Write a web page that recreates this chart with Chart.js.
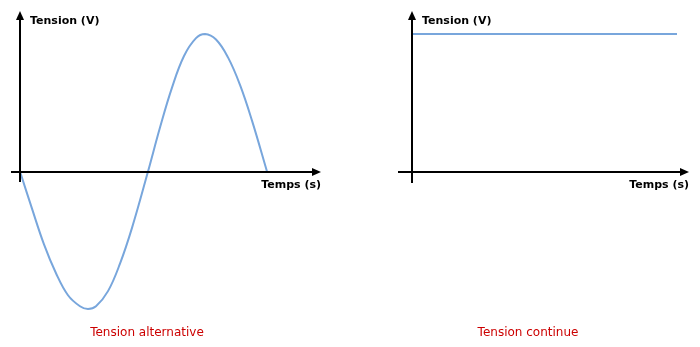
<!DOCTYPE html>
<html>
<head>
<meta charset="utf-8">
<script src="https://cdn.jsdelivr.net/npm/chart.js@4/dist/chart.umd.min.js"></script>
<style>
  html, body { margin: 0; padding: 0; background: #fff; }
  .wrap { position: relative; width: 700px; height: 347px; }
  .panel { position: absolute; top: 0; width: 350px; height: 347px; }
  #left { left: 0; }
  #right { left: 350px; }
</style>
</head>
<body>
<div class="wrap">
  <div class="panel" id="left"><canvas id="acChart"></canvas></div>
  <div class="panel" id="right"><canvas id="dcChart"></canvas></div>
</div>
<script>
// values (time in arbitrary units, voltage normalised to the peak)
const acTime    = [0, 12, 24, 36, 48, 60, 68, 76, 88, 100, 112, 128, 140, 152, 164, 176, 185, 196, 208, 220, 232, 247]
const acVoltage = [0, -0.27, -0.53, -0.74, -0.9, -0.98, -1, -0.98, -0.87, -0.67, -0.41, 0, 0.32, 0.61, 0.84, 0.97, 1, 0.96, 0.83, 0.63, 0.37, 0]

const dcTime    = [0, 1]
const dcVoltage = [1, 1]

const yLabel    = "Tension (V)"
const xLabel    = "Temps (s)"
const acCaption = "Tension alternative"
const dcCaption = "Tension continue"

const lineColor = "#78a6dc"
const axisFont  = "bold 11px 'DejaVu Sans', Verdana, sans-serif"
const capFont   = "12px 'DejaVu Sans', Verdana, sans-serif"

function arrowHead(ctx, x, y, dir) {
  ctx.beginPath()
  if (dir === "up") {
    ctx.moveTo(x, y)
    ctx.lineTo(x - 4, y + 9)
    ctx.lineTo(x + 4, y + 9)
  } else {
    ctx.moveTo(x, y)
    ctx.lineTo(x - 9, y - 4)
    ctx.lineTo(x - 9, y + 4)
  }
  ctx.closePath()
  ctx.fill()
}

const axesPlugin = {
  id: "arrowAxes",
  afterDatasetsDraw(chart, args, opts) {
    const { ctx, scales: { x, y } } = chart
    const x0 = Math.round(x.getPixelForValue(opts.origin))
    const y0 = Math.round(y.getPixelForValue(0))
    ctx.save()
    ctx.strokeStyle = "#000"
    ctx.fillStyle = "#000"
    ctx.lineWidth = 2
    // vertical axis
    ctx.beginPath()
    ctx.moveTo(x0, opts.yBottom)
    ctx.lineTo(x0, opts.yTop + 6)
    ctx.stroke()
    arrowHead(ctx, x0, opts.yTop, "up")
    // horizontal axis
    ctx.beginPath()
    ctx.moveTo(opts.xStart, y0)
    ctx.lineTo(opts.xEnd - 6, y0)
    ctx.stroke()
    arrowHead(ctx, opts.xEnd, y0, "right")

    ctx.font = axisFont
    ctx.textBaseline = "middle"
    ctx.textAlign = "left"
    ctx.fillText(yLabel, x0 + 10, opts.yTop + 10)
    ctx.textAlign = "right"
    ctx.fillText(xLabel, opts.xEnd, y0 + 13)

    ctx.font = capFont
    ctx.fillStyle = "#cc0000"
    ctx.textAlign = "center"
    ctx.fillText(opts.caption, opts.captionX, 333)
    ctx.restore()
  }
}

function makeChart(id, xs, ys, pad, xRange, axes) {
  return new Chart(document.getElementById(id), {
    type: "line",
    data: {
      datasets: [{
        data: xs.map((t, i) => ({ x: t, y: ys[i] })),
        borderColor: lineColor,
        borderWidth: 2,
        pointRadius: 0,
        tension: 0.4,
        fill: false,
        clip: false
      }]
    },
    options: {
      responsive: true,
      maintainAspectRatio: false,
      animation: false,
      layout: { padding: pad },
      plugins: {
        legend: { display: false },
        tooltip: { enabled: false },
        arrowAxes: axes
      },
      scales: {
        x: { type: "linear", display: false, min: xRange[0], max: xRange[1] },
        y: { display: false, min: -1, max: 1 }
      }
    },
    plugins: [axesPlugin]
  })
}

makeChart("acChart", acTime, acVoltage,
  { left: 20, right: 83, top: 34, bottom: 38 }, [0, 247],
  { origin: 0, yTop: 11, yBottom: 182, xStart: 11, xEnd: 321, caption: acCaption, captionX: 147 })

makeChart("dcChart", dcTime, dcVoltage,
  { left: 63, right: 23, top: 34, bottom: 38 }, [0, 1],
  { origin: -0.004, yTop: 11, yBottom: 183, xStart: 48, xEnd: 339, caption: dcCaption, captionX: 178 })
</script>
</body>
</html>
